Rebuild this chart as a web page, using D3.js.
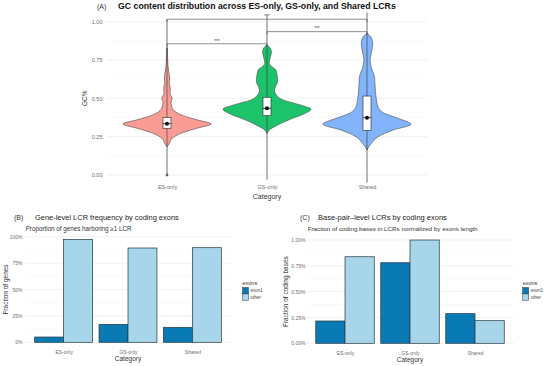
<!DOCTYPE html>
<html>
<head>
<meta charset="utf-8">
<script src="https://cdn.jsdelivr.net/npm/d3@7"></script>
<style>
  body { margin: 0; background: #fff; }
  svg { display: block; font-family: "Liberation Sans", Arial, sans-serif; }
</style>
</head>
<body>
<svg id="chart" width="550" height="366"></svg>
<script>
// ---------- data ----------
const categories = ['ES-only', 'GS-only', 'Shared'];
const violinColors = ['#f99c94', '#1dc36b', '#81b4fa'];

// violin outlines: [GC value, relative half width]
const esProfile = [[0.185, 0], [0.205, 0.05], [0.24, 0.12], [0.27, 0.3], [0.305, 0.68], [0.333, 1.0],
  [0.36, 0.68], [0.39, 0.34], [0.42, 0.16], [0.445, 0.11], [0.475, 0.09], [0.50, 0.12], [0.53, 0.07],
  [0.567, 0.075], [0.60, 0.05], [0.635, 0.06], [0.674, 0.04], [0.72, 0.02], [0.78, 0.012], [0.83, 0]];
const gsProfile = [[0.272, 0], [0.30, 0.08], [0.315, 0.17], [0.36, 0.5], [0.40, 0.85], [0.429, 1.0],
  [0.46, 0.72], [0.49, 0.36], [0.52, 0.22], [0.554, 0.17], [0.58, 0.2], [0.609, 0.24], [0.65, 0.23],
  [0.685, 0.2], [0.71, 0.1], [0.729, 0.05], [0.761, 0.07], [0.804, 0.1], [0.83, 0.07], [0.848, 0]];
const sharedProfile = [[0.163, 0], [0.207, 0.1], [0.25, 0.25], [0.294, 0.6], [0.331, 1.0], [0.37, 0.7],
  [0.402, 0.4], [0.446, 0.25], [0.50, 0.21], [0.554, 0.19], [0.60, 0.18], [0.641, 0.17], [0.70, 0.1],
  [0.75, 0.07], [0.80, 0.1], [0.859, 0.13], [0.90, 0.09], [0.924, 0]];
const profiles = [esProfile, gsProfile, sharedProfile];

// box: lower quartile, upper quartile, centre point
const boxQ1 = [0.305, 0.387, 0.29];
const boxQ3 = [0.376, 0.507, 0.515];
const boxMid = [0.335, 0.435, 0.374];
// thin vertical lines (whiskers / tails)
const lineLo = [0, -0.03, -0.05];
const lineHi = [1.016, 1.04, 1.06];

// significance brackets: [from, to, level]
const brackets = [[0, 2, 1.016], [1, 2, 0.935], [0, 1, 0.856]];
const sigLabel = '***';

const gcTicks = [0, 0.25, 0.5, 0.75, 1];

const exonGroups = ['exon1', 'other'];
const exonColors = ['#0a7ab5', '#a7d5e9'];
const geneExon1 = [0.05, 0.17, 0.142];
const geneOther = [0.975, 0.893, 0.896];
const baseExon1 = [0.216, 0.78, 0.287];
const baseOther = [0.838, 1.0, 0.219];
const fracTicks = [0, 0.25, 0.5, 0.75, 1];

// ---------- helpers ----------
const svg = d3.select('#chart');
svg.append('rect').attr('width', 550).attr('height', 366).attr('fill', '#fff');

const fitText = (sel, width) => {
  const len = sel.node().getComputedTextLength();
  const fs = parseFloat(sel.attr('font-size'));
  sel.attr('font-size', fs * width / len);
};

const addText = (x, y, txt, opts = {}) => {
  const t = svg.append('text')
    .attr('x', x).attr('y', y)
    .attr('font-size', opts.size || 6)
    .attr('fill', opts.fill || '#222')
    .attr('font-weight', opts.weight || 'normal')
    .attr('text-anchor', opts.anchor || 'start')
    .text(txt);
  if (opts.rotate) t.attr('transform', `rotate(-90, ${x}, ${y})`);
  if (opts.width) fitText(t, opts.width);
  return t;
};

const drawGrid = (g, yScale, ticks, x0, x1) => {
  const minor = d3.pairs(ticks).map(([a, b]) => (a + b) / 2);
  g.selectAll('line.minor').data(minor).join('line')
    .attr('x1', x0).attr('x2', x1)
    .attr('y1', d => yScale(d)).attr('y2', d => yScale(d))
    .attr('stroke', '#f4f4f4').attr('stroke-width', 0.5);
  g.selectAll('line.major').data(ticks).join('line')
    .attr('x1', x0).attr('x2', x1)
    .attr('y1', d => yScale(d)).attr('y2', d => yScale(d))
    .attr('stroke', '#ebebeb').attr('stroke-width', 0.7);
};

const drawYAxis = (yScale, ticks, x, fmt, size) => {
  const axis = d3.axisLeft(yScale).tickValues(ticks).tickFormat(fmt).tickSize(0).tickPadding(0);
  const g = svg.append('g').attr('transform', `translate(${x},0)`).call(axis);
  g.select('.domain').remove();
  g.selectAll('text').attr('font-size', size).attr('fill', '#6e6e6e')
    .attr('font-family', '"Liberation Sans", Arial, sans-serif');
};

const drawXAxis = (xScale, y, size) => {
  const axis = d3.axisBottom(xScale).tickSize(0).tickPadding(0);
  const g = svg.append('g').attr('transform', `translate(0,${y})`).call(axis);
  g.select('.domain').remove();
  g.selectAll('text').attr('font-size', size).attr('fill', '#6e6e6e')
    .attr('font-family', '"Liberation Sans", Arial, sans-serif');
};

// ---------- Panel A: violins ----------
const xA = d3.scalePoint().domain(categories).range([107, 427]).padding(0.6);
const yA = d3.scaleLinear().domain([0, 1]).range([175, 21.7]);
const wA = d3.scaleLinear().domain([0, 1]).range([0, 44]);

drawGrid(svg.append('g'), yA, gcTicks, 107, 427);
drawYAxis(yA, gcTicks, 102.5, d3.format('.2f'), 5.5);
drawXAxis(xA, 185.5, 5.5);

const gA = svg.append('g');

// Step 1: thin tails / whiskers
gA.selectAll('line.whisker').data(categories).join('line')
  .attr('x1', d => xA(d)).attr('x2', d => xA(d))
  .attr('y1', (d, i) => yA(lineLo[i])).attr('y2', (d, i) => yA(lineHi[i]))
  .attr('stroke', '#333').attr('stroke-width', 0.7);

// Step 2: violins
const violinArea = (cx) => d3.area()
  .y(d => yA(d[0]))
  .x0(d => cx - wA(d[1]))
  .x1(d => cx + wA(d[1]))
  .curve(d3.curveMonotoneY);

gA.selectAll('path.violin').data(categories).join('path')
  .attr('d', (d, i) => violinArea(xA(d))(profiles[i]))
  .attr('fill', (d, i) => violinColors[i])
  .attr('stroke', '#4a4a4a').attr('stroke-width', 0.6);

// line inside violins
gA.selectAll('line.inner').data(categories).join('line')
  .attr('x1', d => xA(d)).attr('x2', d => xA(d))
  .attr('y1', (d, i) => yA(profiles[i][0][0])).attr('y2', (d, i) => yA(profiles[i][profiles[i].length - 1][0]))
  .attr('stroke', '#333').attr('stroke-width', 0.6);

// Step 3: boxes
const boxW = 8;
gA.selectAll('rect.box').data(categories).join('rect')
  .attr('x', d => xA(d) - boxW / 2).attr('width', boxW)
  .attr('y', (d, i) => yA(boxQ3[i])).attr('height', (d, i) => yA(boxQ1[i]) - yA(boxQ3[i]))
  .attr('fill', '#fff').attr('stroke', '#222').attr('stroke-width', 0.6);

gA.selectAll('line.mid').data(categories).join('line')
  .attr('x1', d => xA(d) - boxW / 2).attr('x2', d => xA(d) + boxW / 2)
  .attr('y1', (d, i) => yA(boxMid[i])).attr('y2', (d, i) => yA(boxMid[i]))
  .attr('stroke', '#111').attr('stroke-width', 0.8);

gA.selectAll('circle.mid').data(categories).join('circle')
  .attr('cx', d => xA(d)).attr('cy', (d, i) => yA(boxMid[i]))
  .attr('r', 2).attr('fill', '#111');

// outlier dot at zero for ES-only
gA.append('circle').attr('cx', xA(categories[0])).attr('cy', yA(0)).attr('r', 1.2)
  .attr('fill', '#8a5a5a').attr('stroke', '#444').attr('stroke-width', 0.3);

// Step 4: significance brackets
brackets.forEach(([a, b, lvl]) => {
  const x1 = xA(categories[a]), x2 = xA(categories[b]), y = yA(lvl);
  gA.append('path')
    .attr('d', `M ${x1} ${y + 3} L ${x1} ${y} L ${x2} ${y} L ${x2} ${y + 3}`)
    .attr('fill', 'none').attr('stroke', '#444').attr('stroke-width', 0.6);
  gA.append('text')
    .attr('x', (x1 + x2) / 2).attr('y', y - 1.2)
    .attr('text-anchor', 'middle').attr('font-size', 4.5).attr('fill', '#444')
    .text(sigLabel);
});

// titles and labels A
addText(97, 8.7, '(A)', { size: 7, fill: '#333' });
addText(118, 8.7, 'GC content distribution across ES-only, GS-only, and Shared LCRs',
  { size: 9, weight: 'bold', fill: '#111', width: 278 });
addText(87.5, 98.3, 'GC%', { size: 6.5, fill: '#333', anchor: 'middle', rotate: true });
addText(267, 199, 'Category', { size: 7, fill: '#333', anchor: 'middle' });

// ---------- Panels B and C: bars ----------
const drawBars = (cfg) => {
  const x = d3.scalePoint().domain(categories).range(cfg.xRange).padding(0.6);
  const step = x.step();
  const inner = d3.scaleBand().domain(exonGroups).range([-0.45 * step, 0.45 * step]);
  const y = d3.scaleLinear().domain([0, 1]).range(cfg.yRange);

  drawGrid(svg.append('g'), y, fracTicks, cfg.xRange[0], cfg.xRange[1]);
  drawYAxis(y, fracTicks, cfg.tickX, cfg.fmt, 5);
  drawXAxis(x, cfg.yRange[0] + 8.5, 5);

  const rows = [];
  categories.forEach((c, i) => {
    rows.push({ cat: c, grp: 'exon1', v: cfg.exon1[i] });
    rows.push({ cat: c, grp: 'other', v: cfg.other[i] });
  });

  svg.append('g').selectAll('rect').data(rows).join('rect')
    .attr('x', d => x(d.cat) + inner(d.grp))
    .attr('width', inner.bandwidth())
    .attr('y', d => y(d.v))
    .attr('height', d => y(0) - y(d.v))
    .attr('fill', d => exonColors[exonGroups.indexOf(d.grp)])
    .attr('stroke', '#253640').attr('stroke-width', 0.7);

  // legend
  const lx = cfg.legendX;
  addText(lx, 285, 'exons', { size: 5.5, fill: '#333' });
  exonGroups.forEach((g, i) => {
    svg.append('rect')
      .attr('x', lx).attr('y', 287.5 + i * 6.4).attr('width', 6).attr('height', 6.4)
      .attr('fill', exonColors[i]).attr('stroke', '#253640').attr('stroke-width', 0.5);
    addText(lx + 8, 292.3 + i * 6.4, g, { size: 4.5, fill: '#444' });
  });

  addText(cfg.tagX, 219.5, cfg.tag, { size: 7, fill: '#333' });
  addText(cfg.titleX, 219.8, cfg.title, { size: 7.5, fill: '#222', width: cfg.titleW });
  addText(cfg.subX, 230.5, cfg.subtitle, { size: 5.8, fill: '#333', width: cfg.subW });
  addText(cfg.ylabX, (cfg.yRange[0] + cfg.yRange[1]) / 2, cfg.ylab,
    { size: 6.5, fill: '#333', anchor: 'middle', rotate: true });
  addText(x(categories[1]), cfg.yRange[0] + 18.5, 'Category', { size: 6.5, fill: '#333', anchor: 'middle' });
};

drawBars({
  xRange: [25, 231], yRange: [342.3, 236.7], tickX: 22.5,
  fmt: d => d3.format('.0%')(d),
  exon1: geneExon1, other: geneOther, legendX: 242.5,
  tag: '(B)', tagX: 14, title: 'Gene-level LCR frequency by coding exons', titleX: 35, titleW: 144,
  subtitle: 'Proportion of genes harboring \u22651 LCR', subX: 25.7, subW: 106,
  ylab: 'Fraction of genes', ylabX: 7.5
});

drawBars({
  xRange: [306, 514], yRange: [343.3, 240], tickX: 305.5,
  fmt: d => d3.format('.2f')(d) + '%',
  exon1: baseExon1, other: baseOther, legendX: 522.7,
  tag: '(C)', tagX: 300, title: 'Base-pair\u2013level LCRs by coding exons', titleX: 318, titleW: 129,
  subtitle: 'Fraction of coding bases in LCRs normalized by exons length', subX: 307.7, subW: 170,
  ylab: 'Fraction of coding bases', ylabX: 288.5
});
</script>
</body>
</html>
